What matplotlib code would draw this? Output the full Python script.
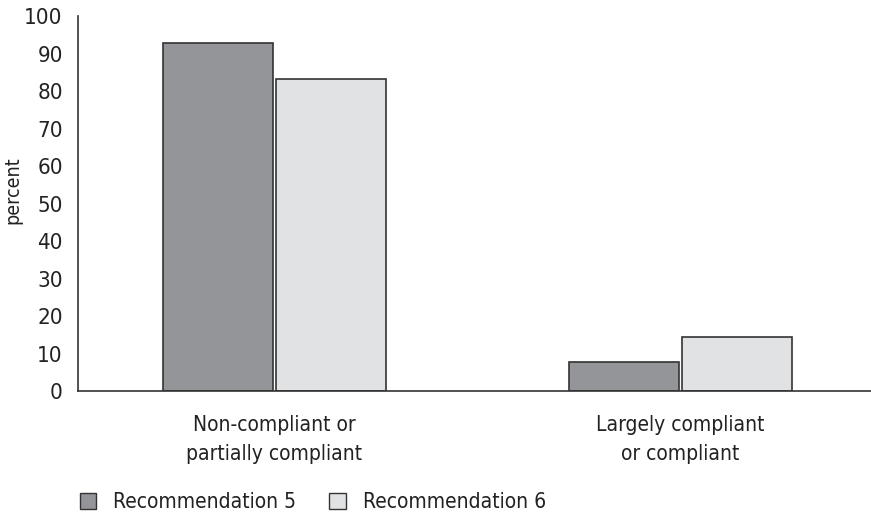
import matplotlib.pyplot as plt
import numpy as np
from matplotlib.patches import Patch

plt.rcParams['font.family'] = ['DejaVu Sans']
plt.rcParams['font.stretch'] = 'condensed'

categories = ['Non-compliant or\npartially compliant', 'Largely compliant\nor compliant']
rec5 = [92.8, 7.7]
rec6 = [83.2, 14.4]
series_names = ['Recommendation 5', 'Recommendation 6']
yticks = np.arange(0, 101, 10)

c5 = '#939598'
c6 = '#e1e2e3'
edge = '#333333'

fig = plt.figure(figsize=(8.71, 5.16), dpi=100)
ax = fig.add_axes([0.0896, 0.242, 0.9104, 0.727])

x = np.arange(len(categories))
w = 0.271
off = 0.139
ax.bar(x - off, rec5, w, color=c5, edgecolor=edge, linewidth=1.2)
ax.bar(x + off, rec6, w, color=c6, edgecolor=edge, linewidth=1.2)

ax.set_xlim(-0.483, 1.47)
ax.set_ylim(0, 100)
ax.set_yticks(yticks)
ax.set_xticks(x)
ax.set_xticklabels(categories, fontsize=15, linespacing=1.6)
ax.tick_params(axis='y', length=0, pad=11, labelsize=16, colors='#222222')
ax.tick_params(axis='x', length=0, pad=17, colors='#222222')
ax.set_ylabel('percent', fontsize=14, color='#222222')
ax.yaxis.set_label_coords(-0.07, 0.536)

for s in ['top', 'right']:
    ax.spines[s].set_visible(False)
for s in ['left', 'bottom']:
    ax.spines[s].set_color(edge)
    ax.spines[s].set_linewidth(1.2)

handles = [Patch(facecolor=c5, edgecolor=edge, linewidth=1.0),
           Patch(facecolor=c6, edgecolor=edge, linewidth=1.0)]
fig.legend(handles, series_names, loc='center left', bbox_to_anchor=(0.07, 0.027),
           ncol=2, frameon=False, fontsize=15, handlelength=0.8, handleheight=0.8,
           handletextpad=0.8, columnspacing=1.6, labelcolor='#222222')

fig.savefig('out.png', dpi=100)
